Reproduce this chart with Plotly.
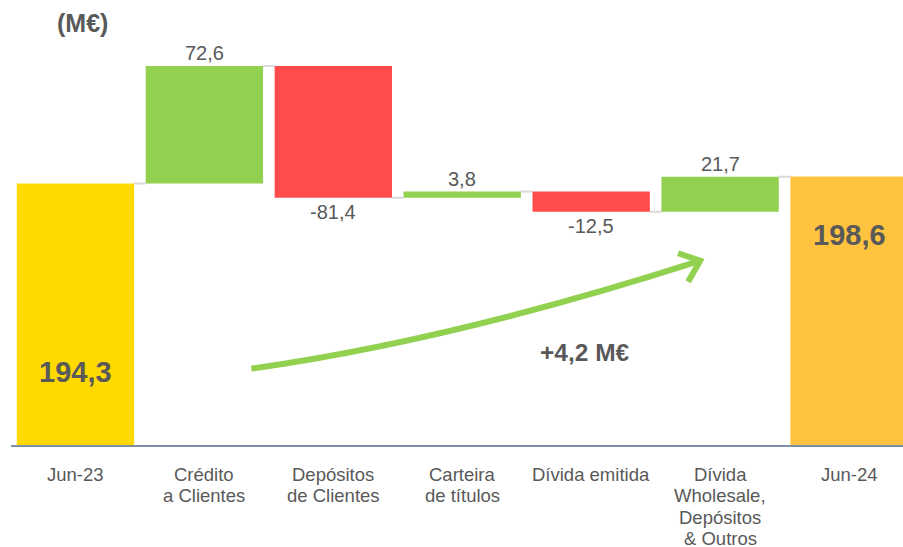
import plotly.graph_objects as go

# data (M€)
categories = ["Jun-23", "Crédito<br>a Clientes", "Depósitos<br>de Clientes",
              "Carteira<br>de títulos", "Dívida emitida",
              "Dívida<br>Wholesale,<br>Depósitos<br>& Outros", "Jun-24"]
measures = ["total", "delta", "delta", "delta", "delta", "delta", "total"]
values = [194.3, 72.6, -81.4, 3.8, -12.5, 21.7, 198.6]
total_colors = ["#FFD900", "#FFC340"]
change_label = "+4,2 M€"
unit_label = "(M€)"

GREEN = "#92D050"
RED = "#FF4B4B"
TXT = "#595959"
BAR_W = 0.91
FIG_W, FIG_H = 903, 547
M_L, M_T = 10.5, 10
PLOT_H = 435.5
Y_MIN = 32.7
Y_MAX = Y_MIN + PLOT_H / 1.62


def fmt(v):
    return f"{v:.1f}".replace(".", ",")


# build bases / heights from the running total
bases, heights, colors, levels = [], [], [], []
running = 0.0
ti = 0
for m, v in zip(measures, values):
    if m == "total":
        running = v
        bases.append(0)
        heights.append(v)
        colors.append(total_colors[ti])
        ti += 1
    else:
        lo = min(running, running + v)
        bases.append(lo)
        heights.append(abs(v))
        colors.append(GREEN if v > 0 else RED)
        running += v
    levels.append(running)

xs = list(range(len(categories)))

fig = go.Figure(go.Bar(x=xs, y=heights, base=bases, width=BAR_W,
                       marker=dict(color=colors, line=dict(width=0)),
                       hoverinfo="skip"))

# connectors
for i in range(len(xs) - 1):
    fig.add_shape(type="line", xref="x", yref="y",
                  x0=xs[i] + BAR_W / 2, x1=xs[i + 1] - BAR_W / 2,
                  y0=levels[i], y1=levels[i],
                  line=dict(color="#D9D9D9", width=2), layer="below")

# value labels
for i, (m, v) in enumerate(zip(measures, values)):
    if m == "total":
        continue
    if v > 0:
        fig.add_annotation(x=xs[i], y=bases[i] + heights[i], text=fmt(v),
                           yanchor="bottom", showarrow=False, yshift=0,
                           font=dict(size=20, color=TXT))
    else:
        fig.add_annotation(x=xs[i], y=bases[i], text=fmt(v),
                           yanchor="top", showarrow=False, yshift=-1,
                           font=dict(size=20, color=TXT))

# category labels, one annotation per line (tighter line spacing)
for i, lab in enumerate(categories):
    for k, line in enumerate(lab.split("<br>")):
        fig.add_annotation(x=xs[i], xref="x", yref="paper",
                           y=-(29.5 + 21.5 * k) / PLOT_H, yanchor="middle",
                           text=line, showarrow=False,
                           font=dict(size=18.5, color=TXT))

big = dict(size=29, color=TXT)
fig.add_annotation(x=xs[0], y=Y_MIN + 45, text="<b>" + fmt(values[0]) + "</b>",
                   showarrow=False, font=big)
fig.add_annotation(x=xs[-1], y=levels[-1] - 36, text="<b>" + fmt(values[-1]) + "</b>",
                   showarrow=False, font=big)

# curved arrow
fig.add_shape(type="path", xref="x", yref="y",
              path="M 1.364 79.9 Q 2.923 97.4 4.822 146.0",
              line=dict(color=GREEN, width=6))
fig.add_shape(type="path", xref="x", yref="y",
              path="M 4.674 151.2 L 4.845 146.6 L 4.752 133.6",
              line=dict(color=GREEN, width=6))
fig.add_annotation(x=3.95, y=Y_MIN + 57, text="<b>" + change_label + "</b>",
                   showarrow=False, font=dict(size=24.5, color=TXT))

fig.add_annotation(xref="x", yref="paper", x=0.054, y=1 - 13 / PLOT_H,
                   xanchor="center", yanchor="middle",
                   text="<b>" + unit_label + "</b>", showarrow=False,
                   font=dict(size=25, color=TXT))

fig.update_layout(
    width=FIG_W, height=FIG_H,
    margin=dict(l=M_L, r=0, t=M_T, b=FIG_H - M_T - PLOT_H, autoexpand=False),
    paper_bgcolor="white", plot_bgcolor="white",
    font=dict(family="Liberation Sans, Arial, sans-serif", color=TXT),
    showlegend=False,
    xaxis=dict(range=[-0.5, -0.5 + (FIG_W - M_L) / 129], tickvals=xs,
               showticklabels=False,
               showgrid=False, zeroline=False, showline=True,
               linecolor="#7F8FA9", linewidth=2, automargin=False),
    yaxis=dict(range=[Y_MIN, Y_MAX], visible=False, automargin=False),
)

# drop the default 8px body margin so the figure fills the window
fig.write_html("out.html", config={"displayModeBar": False},
               post_script="document.body.style.margin='0px';"
                           "document.body.style.overflow='hidden';")
